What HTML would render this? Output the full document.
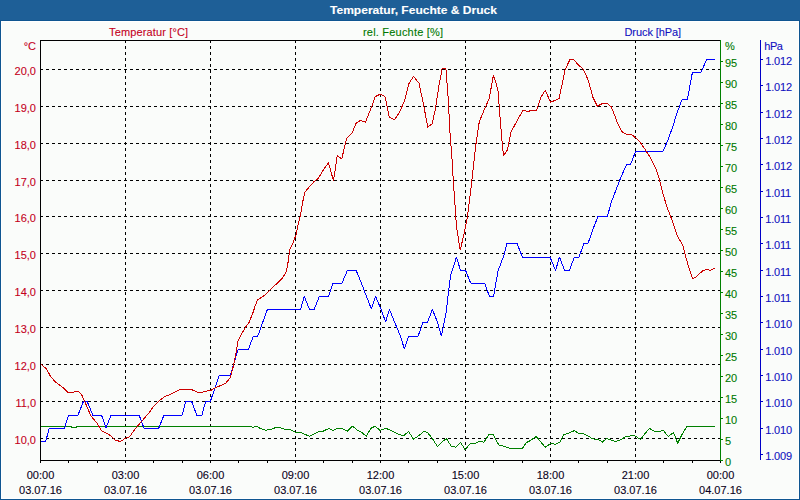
<!DOCTYPE html><html><head><meta charset="utf-8"><title>Temperatur, Feuchte &amp; Druck</title>
<style>html,body{margin:0;padding:0;background:#fafcfa;overflow:hidden}svg{display:block}text{font-family:"Liberation Sans",sans-serif;font-size:11px;stroke-width:0.1px}</style></head><body>
<svg width="800" height="500" viewBox="0 0 800 500">
<rect x="0" y="0" width="800" height="500" fill="#fafcfa"/>
<g shape-rendering="crispEdges">
<rect x="0" y="0" width="800" height="20" fill="#1e5f97"/>
<rect x="0" y="20" width="800" height="1" fill="#0f5591"/>
<rect x="1" y="21" width="798" height="1" fill="#ffffff"/>
<rect x="1" y="21" width="1" height="478" fill="#ffffff"/>
<rect x="798" y="21" width="1" height="478" fill="#ffffff"/>
<rect x="1" y="498" width="798" height="1" fill="#ffffff"/>
<rect x="0" y="20" width="1" height="480" fill="#0f5591"/>
<rect x="799" y="20" width="1" height="480" fill="#0f5591"/>
<rect x="0" y="499" width="800" height="1" fill="#0f5591"/>
</g>
<text x="330" y="14" fill="#ffffff" stroke="#ffffff" style="font-weight:bold" textLength="167" lengthAdjust="spacingAndGlyphs">Temperatur, Feuchte &amp; Druck</text>
<g shape-rendering="crispEdges" stroke="#000" stroke-width="1" fill="none"><line x1="40" y1="438.5" x2="721" y2="438.5" stroke-dasharray="3 3"/><line x1="40" y1="401.5" x2="721" y2="401.5" stroke-dasharray="3 3"/><line x1="40" y1="364.5" x2="721" y2="364.5" stroke-dasharray="3 3"/><line x1="40" y1="327.5" x2="721" y2="327.5" stroke-dasharray="3 3"/><line x1="40" y1="290.5" x2="721" y2="290.5" stroke-dasharray="3 3"/><line x1="40" y1="253.5" x2="721" y2="253.5" stroke-dasharray="3 3"/><line x1="40" y1="216.5" x2="721" y2="216.5" stroke-dasharray="3 3"/><line x1="40" y1="180.5" x2="721" y2="180.5" stroke-dasharray="3 3"/><line x1="40" y1="143.5" x2="721" y2="143.5" stroke-dasharray="3 3"/><line x1="40" y1="106.5" x2="721" y2="106.5" stroke-dasharray="3 3"/><line x1="40" y1="69.5" x2="721" y2="69.5" stroke-dasharray="3 3"/><line x1="125.5" y1="40" x2="125.5" y2="460" stroke-dasharray="3 3"/><line x1="210.5" y1="40" x2="210.5" y2="460" stroke-dasharray="3 3"/><line x1="295.5" y1="40" x2="295.5" y2="460" stroke-dasharray="3 3"/><line x1="380.5" y1="40" x2="380.5" y2="460" stroke-dasharray="3 3"/><line x1="465.5" y1="40" x2="465.5" y2="460" stroke-dasharray="3 3"/><line x1="550.5" y1="40" x2="550.5" y2="460" stroke-dasharray="3 3"/><line x1="635.5" y1="40" x2="635.5" y2="460" stroke-dasharray="3 3"/><line x1="40" y1="40.5" x2="721" y2="40.5"/><line x1="40" y1="460.5" x2="721" y2="460.5"/><line x1="40.5" y1="40" x2="40.5" y2="463"/><line x1="40.5" y1="461" x2="40.5" y2="463"/><line x1="68.5" y1="461" x2="68.5" y2="463"/><line x1="97.5" y1="461" x2="97.5" y2="463"/><line x1="125.5" y1="461" x2="125.5" y2="463"/><line x1="153.5" y1="461" x2="153.5" y2="463"/><line x1="182.5" y1="461" x2="182.5" y2="463"/><line x1="210.5" y1="461" x2="210.5" y2="463"/><line x1="238.5" y1="461" x2="238.5" y2="463"/><line x1="267.5" y1="461" x2="267.5" y2="463"/><line x1="295.5" y1="461" x2="295.5" y2="463"/><line x1="323.5" y1="461" x2="323.5" y2="463"/><line x1="352.5" y1="461" x2="352.5" y2="463"/><line x1="380.5" y1="461" x2="380.5" y2="463"/><line x1="408.5" y1="461" x2="408.5" y2="463"/><line x1="437.5" y1="461" x2="437.5" y2="463"/><line x1="465.5" y1="461" x2="465.5" y2="463"/><line x1="493.5" y1="461" x2="493.5" y2="463"/><line x1="522.5" y1="461" x2="522.5" y2="463"/><line x1="550.5" y1="461" x2="550.5" y2="463"/><line x1="578.5" y1="461" x2="578.5" y2="463"/><line x1="607.5" y1="461" x2="607.5" y2="463"/><line x1="635.5" y1="461" x2="635.5" y2="463"/><line x1="663.5" y1="461" x2="663.5" y2="463"/><line x1="692.5" y1="461" x2="692.5" y2="463"/><line x1="720.5" y1="461" x2="720.5" y2="463"/></g>
<g shape-rendering="crispEdges" stroke="#008000" stroke-width="1" fill="none"><line x1="720.5" y1="40" x2="720.5" y2="461"/><line x1="721" y1="61.5" x2="723" y2="61.5"/><line x1="721" y1="82.5" x2="723" y2="82.5"/><line x1="721" y1="103.5" x2="723" y2="103.5"/><line x1="721" y1="124.5" x2="723" y2="124.5"/><line x1="721" y1="145.5" x2="723" y2="145.5"/><line x1="721" y1="166.5" x2="723" y2="166.5"/><line x1="721" y1="187.5" x2="723" y2="187.5"/><line x1="721" y1="208.5" x2="723" y2="208.5"/><line x1="721" y1="229.5" x2="723" y2="229.5"/><line x1="721" y1="250.5" x2="723" y2="250.5"/><line x1="721" y1="271.5" x2="723" y2="271.5"/><line x1="721" y1="292.5" x2="723" y2="292.5"/><line x1="721" y1="313.5" x2="723" y2="313.5"/><line x1="721" y1="334.5" x2="723" y2="334.5"/><line x1="721" y1="355.5" x2="723" y2="355.5"/><line x1="721" y1="376.5" x2="723" y2="376.5"/><line x1="721" y1="397.5" x2="723" y2="397.5"/><line x1="721" y1="418.5" x2="723" y2="418.5"/><line x1="721" y1="439.5" x2="723" y2="439.5"/><line x1="721" y1="460.5" x2="723" y2="460.5"/></g>
<g shape-rendering="crispEdges" stroke="#0000c8" stroke-width="1" fill="none"><line x1="760.5" y1="40" x2="760.5" y2="460"/><line x1="761" y1="59.5" x2="763" y2="59.5"/><line x1="761" y1="85.5" x2="763" y2="85.5"/><line x1="761" y1="112.5" x2="763" y2="112.5"/><line x1="761" y1="138.5" x2="763" y2="138.5"/><line x1="761" y1="164.5" x2="763" y2="164.5"/><line x1="761" y1="191.5" x2="763" y2="191.5"/><line x1="761" y1="217.5" x2="763" y2="217.5"/><line x1="761" y1="243.5" x2="763" y2="243.5"/><line x1="761" y1="270.5" x2="763" y2="270.5"/><line x1="761" y1="296.5" x2="763" y2="296.5"/><line x1="761" y1="322.5" x2="763" y2="322.5"/><line x1="761" y1="349.5" x2="763" y2="349.5"/><line x1="761" y1="375.5" x2="763" y2="375.5"/><line x1="761" y1="401.5" x2="763" y2="401.5"/><line x1="761" y1="428.5" x2="763" y2="428.5"/><line x1="761" y1="454.5" x2="763" y2="454.5"/></g>
<g fill="none" stroke-width="1" shape-rendering="crispEdges" stroke-linejoin="round">
<polyline stroke="#008000" points="40.8,426.5 71.0,426.5 72.0,427.3 76.0,427.3 77.0,426.5 250.6,426.5 253.0,427.5 256.2,426.2 259.4,428.0 262.5,429.4 265.6,430.2 268.8,429.6 272.5,429.0 275.6,427.5 278.0,427.2 282.5,428.5 286.0,430.0 289.4,429.4 292.5,430.6 295.6,432.2 300.0,432.2 309.4,436.2 319.4,431.5 323.1,431.2 328.8,428.5 332.8,430.4 336.9,428.5 341.9,428.5 347.5,431.2 352.5,426.2 356.9,429.8 361.2,431.9 366.2,436.2 371.2,428.1 375.0,426.2 380.0,430.4 386.2,428.4 392.5,431.2 399.4,434.6 403.8,435.6 408.5,431.5 413.5,439.1 417.5,436.6 423.8,431.5 427.5,432.5 432.5,438.8 437.5,446.5 442.5,441.2 446.5,438.8 451.2,446.2 455.6,447.2 460.6,442.5 465.2,449.8 470.6,443.1 474.4,444.0 479.4,441.5 483.8,442.2 489.0,434.4 493.1,434.4 498.8,445.0 505.0,446.6 510.6,448.4 522.5,448.4 526.2,442.8 531.2,440.0 536.2,436.5 541.2,442.5 545.2,447.2 551.2,443.1 555.0,444.4 560.0,441.9 563.8,434.8 568.8,433.1 574.4,430.6 578.8,433.4 583.1,433.4 587.5,435.6 592.5,438.8 600.0,440.2 602.2,442.2 606.8,438.5 611.2,440.0 615.8,441.5 621.0,439.5 626.2,436.5 633.8,435.5 636.0,436.5 640.5,439.5 645.0,433.5 649.5,428.5 654.8,431.3 660.0,431.3 663.0,430.0 668.2,436.5 673.5,432.5 677.7,443.3 681.8,434.8 687.0,426.2 715.2,426.2"/>
<polyline stroke="#0000ff" points="40.8,441.4 45.6,441.4 49.4,428.0 64.6,428.0 68.4,415.4 77.9,415.4 83.6,401.0 87.0,401.0 93.0,415.4 101.6,415.4 106.0,427.7 111.0,415.4 139.2,415.4 144.0,428.0 158.8,428.0 163.9,415.4 182.0,415.4 185.8,401.0 191.5,401.0 196.8,415.4 201.9,415.4 205.7,401.0 210.5,401.0 219.3,375.3 230.3,375.3 238.0,349.6 248.3,349.6 253.4,336.0 257.8,336.0 267.4,309.4 300.5,309.4 304.2,296.4 309.6,309.4 314.2,309.4 319.4,296.4 328.5,296.4 333.0,283.3 341.9,283.3 347.4,270.4 356.0,270.4 359.0,277.0 364.0,290.0 371.4,309.0 375.6,296.6 381.0,309.0 385.6,322.0 389.4,309.4 395.0,323.0 400.0,335.0 404.4,349.0 408.6,336.4 418.0,336.4 423.0,322.4 427.4,322.4 432.4,309.4 437.4,322.0 441.4,336.0 446.0,313.0 450.6,275.0 456.4,257.4 460.6,270.4 465.6,270.4 470.6,283.0 484.6,283.0 489.4,296.4 493.6,296.4 498.0,271.0 504.0,255.0 507.0,243.5 517.0,243.5 522.5,257.2 550.0,257.0 555.6,270.4 559.4,257.0 564.6,270.4 569.4,270.4 574.4,257.0 579.0,257.0 584.0,243.4 588.0,243.4 593.0,229.0 598.0,216.6 607.4,216.6 611.0,203.0 616.0,190.0 621.0,177.0 626.6,164.4 630.6,164.4 635.6,151.4 663.0,151.4 668.0,140.0 673.0,126.0 677.0,113.0 682.0,99.6 687.4,99.6 692.4,72.4 701.0,72.4 706.6,59.4 715.2,59.4"/>
<polyline stroke="#cc0000" points="40.8,364.0 46.5,369.0 50.3,376.0 55.0,381.6 59.0,384.5 63.6,388.0 68.4,393.0 72.0,392.4 77.9,391.0 81.7,395.0 84.5,400.6 87.4,408.0 91.0,416.0 96.9,423.0 101.6,431.0 106.4,433.0 111.0,436.0 115.8,440.5 120.6,441.4 125.0,438.5 129.7,436.6 133.5,431.0 138.3,425.3 144.0,418.6 149.7,412.0 153.5,406.3 159.2,400.6 164.9,396.4 169.6,394.9 175.3,392.0 180.0,389.5 191.5,389.5 197.2,392.2 201.9,392.2 206.6,391.0 211.6,390.0 216.0,387.4 220.4,385.6 225.9,383.0 230.3,377.5 233.6,365.4 235.8,354.4 238.0,341.2 241.3,334.6 245.7,326.9 249.0,322.5 253.4,311.5 255.0,306.4 257.6,299.9 261.5,297.3 265.4,294.7 270.0,290.1 273.9,286.2 278.4,282.3 282.3,278.4 286.2,271.9 288.2,261.5 289.7,249.4 293.0,242.8 296.3,234.0 298.5,223.0 300.7,214.2 302.9,201.0 304.9,192.3 309.3,186.8 313.7,182.0 318.1,178.5 322.5,171.4 328.4,162.6 333.5,180.7 337.3,155.6 341.7,158.9 346.7,138.4 352.2,132.9 356.2,123.0 360.6,120.4 365.4,122.3 370.9,108.7 375.3,96.6 380.5,94.1 384.9,96.3 387.1,106.2 389.3,117.2 394.4,119.9 399.2,112.8 404.7,100.7 409.1,83.1 413.5,76.5 419.0,83.1 423.4,104.0 427.8,127.1 432.2,123.8 435.5,108.4 438.8,86.4 442.1,68.8 445.9,68.8 448.3,99.6 449.8,130.4 452.0,159.0 453.2,178.6 455.0,205.0 456.5,227.0 460.2,250.0 464.2,233.6 467.5,216.0 470.8,189.6 473.5,165.4 476.0,143.6 479.3,121.6 484.8,108.4 489.2,98.5 491.4,86.4 493.2,75.4 495.8,82.0 498.0,90.8 500.2,119.4 502.0,141.4 503.5,155.7 507.3,150.2 511.2,131.5 516.7,121.6 522.7,110.6 527.7,111.3 532.1,110.6 536.5,110.2 540.9,97.4 545.3,90.2 547.5,95.2 550.4,102.3 554.4,100.6 559.2,98.4 562.1,84.1 565.0,69.8 569.8,59.9 574.2,59.9 578.6,65.4 583.0,68.7 586.3,75.3 589.6,85.2 592.9,97.3 597.3,106.1 601.7,103.9 606.8,103.3 611.2,106.8 614.9,116.0 618.2,124.8 622.6,132.5 627.5,134.7 631.4,134.3 635.5,137.7 639.9,142.1 645.4,149.8 650.9,158.6 655.3,167.4 658.6,176.2 660.8,185.0 663.0,193.8 666.3,204.8 668.5,211.0 672.0,220.0 677.0,235.0 683.0,246.0 686.0,258.0 689.6,270.0 692.4,278.4 695.6,277.6 699.0,274.0 703.0,270.6 706.6,269.4 710.0,270.4 712.4,269.4 715.2,268.2"/>
</g>
<text x="36" y="50" fill="#c4001c" stroke="#c4001c" text-anchor="end">°C</text><text x="36" y="444" fill="#c4001c" stroke="#c4001c" text-anchor="end">10,0</text><text x="36" y="407" fill="#c4001c" stroke="#c4001c" text-anchor="end">11,0</text><text x="36" y="370" fill="#c4001c" stroke="#c4001c" text-anchor="end">12,0</text><text x="36" y="333" fill="#c4001c" stroke="#c4001c" text-anchor="end">13,0</text><text x="36" y="296" fill="#c4001c" stroke="#c4001c" text-anchor="end">14,0</text><text x="36" y="259" fill="#c4001c" stroke="#c4001c" text-anchor="end">15,0</text><text x="36" y="222" fill="#c4001c" stroke="#c4001c" text-anchor="end">16,0</text><text x="36" y="186" fill="#c4001c" stroke="#c4001c" text-anchor="end">17,0</text><text x="36" y="149" fill="#c4001c" stroke="#c4001c" text-anchor="end">18,0</text><text x="36" y="112" fill="#c4001c" stroke="#c4001c" text-anchor="end">19,0</text><text x="36" y="75" fill="#c4001c" stroke="#c4001c" text-anchor="end">20,0</text><text x="109" y="36" fill="#c4001c" stroke="#c4001c" letter-spacing="0.14">Temperatur [°C]</text><text x="363" y="36" fill="#007800" stroke="#007800" letter-spacing="0.2">rel. Feuchte [%]</text><text x="624.5" y="36" fill="#1010c0" stroke="#1010c0" letter-spacing="-0.08">Druck [hPa]</text><text x="725" y="50" fill="#007800" stroke="#007800">%</text><text x="725" y="67" fill="#007800" stroke="#007800">95</text><text x="725" y="88" fill="#007800" stroke="#007800">90</text><text x="725" y="109" fill="#007800" stroke="#007800">85</text><text x="725" y="130" fill="#007800" stroke="#007800">80</text><text x="725" y="151" fill="#007800" stroke="#007800">75</text><text x="725" y="172" fill="#007800" stroke="#007800">70</text><text x="725" y="193" fill="#007800" stroke="#007800">65</text><text x="725" y="214" fill="#007800" stroke="#007800">60</text><text x="725" y="235" fill="#007800" stroke="#007800">55</text><text x="725" y="256" fill="#007800" stroke="#007800">50</text><text x="725" y="277" fill="#007800" stroke="#007800">45</text><text x="725" y="298" fill="#007800" stroke="#007800">40</text><text x="725" y="319" fill="#007800" stroke="#007800">35</text><text x="725" y="340" fill="#007800" stroke="#007800">30</text><text x="725" y="361" fill="#007800" stroke="#007800">25</text><text x="725" y="382" fill="#007800" stroke="#007800">20</text><text x="725" y="403" fill="#007800" stroke="#007800">15</text><text x="725" y="424" fill="#007800" stroke="#007800">10</text><text x="725" y="445" fill="#007800" stroke="#007800">5</text><text x="725" y="466" fill="#007800" stroke="#007800">0</text><text x="764.3" y="50" fill="#1010c0" stroke="#1010c0" letter-spacing="-0.5">hPa</text><text x="765.3" y="65" fill="#1010c0" stroke="#1010c0" letter-spacing="-0.2">1.012</text><text x="765.3" y="91" fill="#1010c0" stroke="#1010c0" letter-spacing="-0.2">1.012</text><text x="765.3" y="118" fill="#1010c0" stroke="#1010c0" letter-spacing="-0.2">1.012</text><text x="765.3" y="144" fill="#1010c0" stroke="#1010c0" letter-spacing="-0.2">1.012</text><text x="765.3" y="170" fill="#1010c0" stroke="#1010c0" letter-spacing="-0.2">1.012</text><text x="765.3" y="197" fill="#1010c0" stroke="#1010c0" letter-spacing="-0.2">1.011</text><text x="765.3" y="223" fill="#1010c0" stroke="#1010c0" letter-spacing="-0.2">1.011</text><text x="765.3" y="249" fill="#1010c0" stroke="#1010c0" letter-spacing="-0.2">1.011</text><text x="765.3" y="276" fill="#1010c0" stroke="#1010c0" letter-spacing="-0.2">1.011</text><text x="765.3" y="302" fill="#1010c0" stroke="#1010c0" letter-spacing="-0.2">1.011</text><text x="765.3" y="328" fill="#1010c0" stroke="#1010c0" letter-spacing="-0.2">1.010</text><text x="765.3" y="355" fill="#1010c0" stroke="#1010c0" letter-spacing="-0.2">1.010</text><text x="765.3" y="381" fill="#1010c0" stroke="#1010c0" letter-spacing="-0.2">1.010</text><text x="765.3" y="407" fill="#1010c0" stroke="#1010c0" letter-spacing="-0.2">1.010</text><text x="765.3" y="434" fill="#1010c0" stroke="#1010c0" letter-spacing="-0.2">1.010</text><text x="765.3" y="460" fill="#1010c0" stroke="#1010c0" letter-spacing="-0.2">1.009</text><text x="40.5" y="479" fill="#0a0020" stroke="#0a0020" text-anchor="middle">00:00</text><text x="40.5" y="494" fill="#0a0020" stroke="#0a0020" text-anchor="middle">03.07.16</text><text x="125.5" y="479" fill="#0a0020" stroke="#0a0020" text-anchor="middle">03:00</text><text x="125.5" y="494" fill="#0a0020" stroke="#0a0020" text-anchor="middle">03.07.16</text><text x="210.5" y="479" fill="#0a0020" stroke="#0a0020" text-anchor="middle">06:00</text><text x="210.5" y="494" fill="#0a0020" stroke="#0a0020" text-anchor="middle">03.07.16</text><text x="295.5" y="479" fill="#0a0020" stroke="#0a0020" text-anchor="middle">09:00</text><text x="295.5" y="494" fill="#0a0020" stroke="#0a0020" text-anchor="middle">03.07.16</text><text x="380.5" y="479" fill="#0a0020" stroke="#0a0020" text-anchor="middle">12:00</text><text x="380.5" y="494" fill="#0a0020" stroke="#0a0020" text-anchor="middle">03.07.16</text><text x="465.5" y="479" fill="#0a0020" stroke="#0a0020" text-anchor="middle">15:00</text><text x="465.5" y="494" fill="#0a0020" stroke="#0a0020" text-anchor="middle">03.07.16</text><text x="550.5" y="479" fill="#0a0020" stroke="#0a0020" text-anchor="middle">18:00</text><text x="550.5" y="494" fill="#0a0020" stroke="#0a0020" text-anchor="middle">03.07.16</text><text x="635.5" y="479" fill="#0a0020" stroke="#0a0020" text-anchor="middle">21:00</text><text x="635.5" y="494" fill="#0a0020" stroke="#0a0020" text-anchor="middle">03.07.16</text><text x="720.5" y="479" fill="#0a0020" stroke="#0a0020" text-anchor="middle">00:00</text><text x="720.5" y="494" fill="#0a0020" stroke="#0a0020" text-anchor="middle">04.07.16</text>
</svg></body></html>
